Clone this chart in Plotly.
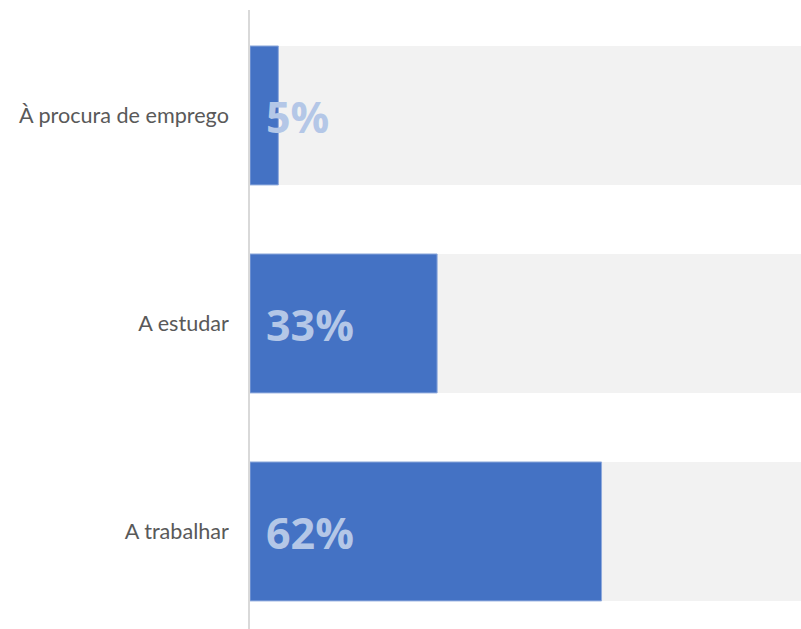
import plotly.graph_objects as go

categories = ["A trabalhar", "A estudar", "À procura de emprego"]
values = [0.62, 0.33, 0.05]
background = [1.0, 1.0, 1.0]
labels = ["62%", "33%", "5%"]

ypos = list(range(len(categories)))

fig = go.Figure()
fig.add_trace(go.Bar(
    y=ypos, x=background, orientation="h", width=0.668,
    marker=dict(color="#F2F2F2", line=dict(width=0)),
    hoverinfo="skip", showlegend=False,
))
fig.add_trace(go.Bar(
    y=ypos, x=values, orientation="h", width=0.668,
    marker=dict(color="#4472C4", line=dict(width=1, color="#8FAADC")),
    showlegend=False,
))

for y, lab in zip(ypos, labels):
    fig.add_annotation(
        x=0, y=y, xref="x", yref="y", text=lab, showarrow=False,
        xanchor="left", yanchor="middle", xshift=14, yshift=-1,
        font=dict(family="Open Sans", size=43, color="#B4C7E7", weight="bold"),
    )

fig.update_layout(
    barmode="overlay",
    width=801, height=629,
    margin=dict(l=250, r=0, t=10, b=0),
    plot_bgcolor="white", paper_bgcolor="white",
    xaxis=dict(range=[0, 551 / 567], visible=False, fixedrange=True),
    yaxis=dict(
        range=[-0.469, 2.507], tickvals=ypos, ticktext=categories,
        showline=True, linecolor="#D9D9D9", linewidth=1.5,
        showgrid=False, zeroline=False, ticks="", ticklabelstandoff=15,
        tickfont=dict(family="Lato", size=21.6, color="#595959"),
        fixedrange=True,
    ),
)

fig.write_html(
    "out.html",
    config={"displayModeBar": False},
    post_script="document.body.style.margin='0';document.body.style.overflow='hidden';",
)
